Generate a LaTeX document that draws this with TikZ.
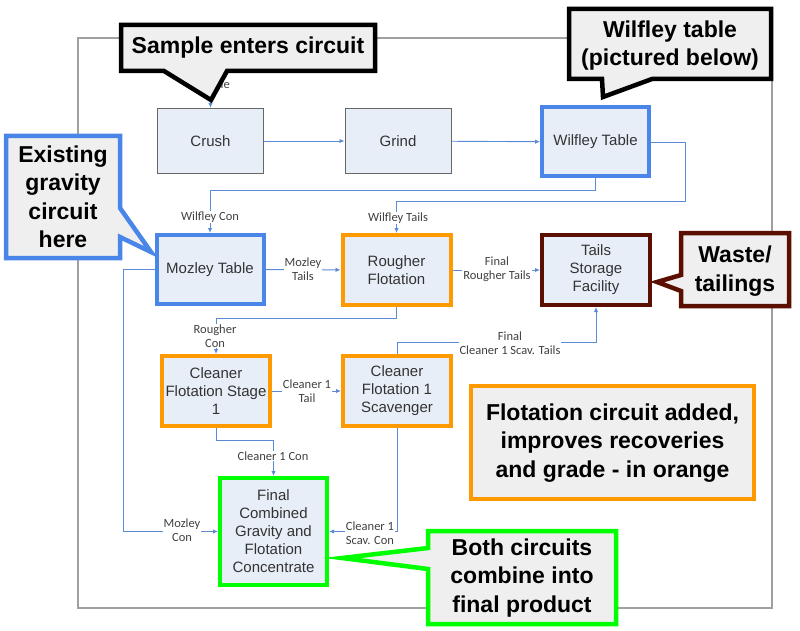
\documentclass[tikz,border=0pt]{standalone}
\usepackage{fontspec}
\setmainfont{Liberation Sans}
\newfontfamily\lblfont{Carlito}
\usetikzlibrary{arrows.meta}
\definecolor{boxfill}{HTML}{E8EEF8}
\definecolor{boxtext}{HTML}{333333}
\definecolor{conncol}{HTML}{5B8BD6}
\definecolor{lbltext}{HTML}{404040}
\definecolor{gblue}{HTML}{4A86E8}
\definecolor{gorange}{HTML}{FF9900}
\definecolor{gred}{HTML}{5B0F00}
\definecolor{ggreen}{HTML}{00FF00}
\definecolor{callfill}{HTML}{EFEFEF}
\definecolor{framecol}{HTML}{A0A0A0}
\tikzset{
  procbox/.style={draw=gray!80!black, line width=1pt, fill=boxfill, minimum width=106pt, minimum height=65pt, inner sep=1pt, align=center, text=boxtext, font=\fontsize{15}{18}\selectfont},
  bluebox/.style={procbox, draw=gblue, line width=4pt, minimum width=107pt, minimum height=69pt},
  orangebox/.style={procbox, draw=gorange, line width=4pt, minimum width=108pt, minimum height=70pt},
  redbox/.style={procbox, draw=gred, line width=4pt, minimum width=108pt, minimum height=70pt},
  greenbox/.style={procbox, draw=ggreen, line width=4pt, minimum width=107pt, minimum height=107pt},
  conn/.style={draw=conncol, line width=0.9pt, -{Latex[length=5pt,width=4.5pt]}},
  lbl/.style={fill=white, inner sep=1pt, align=center, text=lbltext, font=\lblfont\fontsize{12.5}{14}\selectfont},
  callshape/.style={fill=callfill, line width=4.5pt, line join=miter, miter limit=10},
  calltext/.style={align=center, text=black, font=\bfseries\fontsize{23}{28.5}\selectfont},
}
\begin{document}
\begin{tikzpicture}[x=1pt,y=-1pt]
\useasboundingbox (0,0) rectangle (800,631);
% frame
\draw[framecol, line width=1.3pt] (78,38) rectangle (772,608);

% process boxes
\node[procbox] (crush) at (210.5,141) {Crush};
\node[procbox] (grind) at (398,141) {Grind};
\node[bluebox] (wilfley) at (595.5,142) {Wilfley Table};
\node[bluebox] (mozley) at (210,269.5) {Mozley Table};
\node[orangebox] (rougher) at (396.5,270) {Rougher\\Flotation};
\node[redbox] (tails) at (596,270) {Tails\\Storage\\Facility};
\node[orangebox] (clean1) at (216,391) {Cleaner\\Flotation Stage\\1};
\node[orangebox] (scav) at (397,391) {Cleaner\\Flotation 1\\Scavenger};
\node[greenbox] (final) at (273.5,531.5) {Final\\Combined\\Gravity and\\Flotation\\Concentrate};

% waypoints
\coordinate (samplein) at (210.5,78);
\coordinate (wtR) at (685,201);
\coordinate (mzc) at (123,531.5);

% connectors
\draw[conn] (samplein) -- (crush.north);
\draw[conn] (crush) -- (grind);
\draw[conn] (grind) -- (wilfley);
\draw[conn] (wilfley.east) -| (wtR) -| (rougher.north);
\draw[conn] (wilfley.south) -- ++(0,12) -| (mozley.north);
\draw[conn] (mozley) -- (rougher);
\draw[conn] (rougher) -- (tails);
\draw[conn] (rougher.south) -- ++(0,11) -| (clean1.north);
\draw[conn] (clean1) -- (scav);
\draw[conn] (scav.north) -- ++(0,-12) -| (tails.south);
\draw[conn] (clean1.south) -- ++(0,12) -| (final.north);
\draw[conn] (mozley.west) -| (mzc) -- (final.west);
\draw[conn] (scav.south) |- (final.east);

% connector labels
\node[lbl, anchor=east, fill=none] (lsample) at (231,85) {Sample};
\node[lbl] (lwcon) at (210,217) {Wilfley Con};
\node[lbl] (lwtails) at (398,218) {Wilfley Tails};
\node[lbl] (lmtails) at (303,269) {Mozley\\Tails};
\node[lbl] (lrtails) at (497,269) {Final\\Rougher Tails};
\node[lbl] (lrcon) at (215,336) {Rougher\\Con};
\node[lbl] (lc1tail) at (307,391) {Cleaner 1\\Tail};
\node[lbl] (lstails) at (510,343.5) {Final\\Cleaner 1 Scav. Tails};
\node[lbl] (lc1con) at (273,456) {Cleaner 1 Con};
\node[lbl] (lmcon) at (182,530.5) {Mozley\\Con};
\node[lbl, align=left] (lscon) at (370,533) {Cleaner 1\\Scav. Con};

% callouts
\draw[callshape, draw=black] (121,25) -- (375,25) -- (375,71) -- (227,71) -- (211,100) -- (164,71) -- (121,71) -- cycle;
\node[calltext] (csample) at (248,48) {Sample enters circuit};

\draw[callshape, draw=black] (569,9) -- (771,9) -- (771,79) -- (652,79) -- (603,97) -- (602,79) -- (569,79) -- cycle;
\node[calltext] (cwilfley) at (670,45.5) {Wilfley table\\(pictured below)};

\draw[callshape, draw=gblue] (6,136) -- (120,136) -- (120,208) -- (151,252) -- (120,237) -- (120,258) -- (6,258) -- cycle;
\node[calltext] (cexist) at (63,197) {Existing\\gravity\\circuit\\here};

\draw[callshape, draw=gred] (681,233) -- (789,233) -- (789,306) -- (681,306) -- (681,291) -- (657,282) -- (681,275) -- cycle;
\node[calltext] (cwaste) at (735,271) {Waste/\\tailings};

\draw[callshape, draw=gorange] (471,386) rectangle (754,499);
\node[calltext] (cflot) at (612.5,443) {Flotation circuit added,\\improves recoveries\\and grade - in orange};

\draw[callshape, draw=ggreen] (428,531) -- (616,531) -- (616,624) -- (428,624) -- (428,569) -- (342,558) -- (428,548) -- cycle;
\node[calltext] (cboth) at (522,578) {Both circuits\\combine into\\final product};
\end{tikzpicture}
\end{document}
